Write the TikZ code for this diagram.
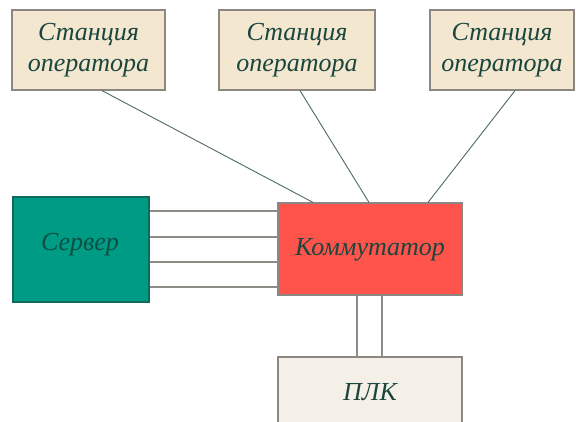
\documentclass[tikz,border=0pt]{standalone}
\usepackage{fontspec}
\setmainfont{Liberation Serif}
\usetikzlibrary{calc}
\definecolor{stfill}{HTML}{F3E7D0}
\definecolor{boxedge}{HTML}{8C8782}
\definecolor{srvfill}{HTML}{009B84}
\definecolor{srvedge}{HTML}{0E6B5C}
\definecolor{swfill}{HTML}{FF544C}
\definecolor{plcfill}{HTML}{F4F0E8}
\definecolor{txt}{HTML}{1A463E}
\definecolor{srvtxt}{HTML}{0D4F44}
\definecolor{wire}{HTML}{8E8B85}
\definecolor{link}{HTML}{4E6A64}
\tikzset{
  label font/.style={font=\fontsize{26}{31}\selectfont\itshape, text=txt, align=center},
  station/.style={label font, draw=boxedge, line width=1.2pt, fill=stfill,
    minimum height=80pt, inner sep=0pt},
  server/.style={draw=srvedge, line width=1.2pt, fill=srvfill,
    minimum width=136pt, minimum height=105pt, inner sep=0pt},
  switch/.style={draw=boxedge, line width=1.2pt, fill=swfill,
    minimum width=184pt, minimum height=92pt, inner sep=0pt},
  plc/.style={draw=boxedge, line width=1.2pt, fill=plcfill,
    minimum width=184pt, minimum height=90pt, inner sep=0pt},
  wire/.style={draw=wire, line width=1.4pt},
  link/.style={draw=link, line width=0.9pt}
}
\begin{document}
\begin{tikzpicture}[x=1pt,y=-1pt]
  \useasboundingbox (0,0) rectangle (576,421);
  \clip (0,0) rectangle (576,421);
  \fill[white] (0,0) rectangle (576,421);

  % operator stations
  \node[station, minimum width=153pt] (st1) at (88.5,50) {Станция\\оператора};
  \node[station, minimum width=156pt] (st2) at (297,50) {Станция\\оператора};
  \node[station, minimum width=144pt] (st3) at (502,50) {Станция\\оператора};

  % server, switch and PLC
  \node[server] (srv) at (81,249.5) {};
  \node[label font, text=srvtxt] (srvlabel) at (80,245) {Сервер};
  \node[switch] (sw) at (370,249) {};
  \node[label font] (swlabel) at (370,250) {Коммутатор};
  \node[plc] (plc) at (370,402) {};
  \node[label font] (plclabel) at (370,392) {ПЛК};

  % station uplinks to the switch
  \draw[link] ($(st1.south)+(13.5,0)$) -- ($(sw.north)+(-57,0)$);
  \draw[link] ($(st2.south)+(3,0)$) -- ($(sw.north)+(-1,0)$);
  \draw[link] ($(st3.south)+(13,0)$) -- ($(sw.north)+(58,0)$);

  % server trunk lines
  \foreach \yy in {211,237,262,287}
    \draw[wire] (srv.east |- 0,\yy) -- (sw.west |- 0,\yy);

  % switch to PLC
  \draw[wire] ($(sw.south)+(-13,0)$) -- ($(plc.north)+(-13,0)$);
  \draw[wire] ($(sw.south)+(12,0)$) -- ($(plc.north)+(12,0)$);
\end{tikzpicture}
\end{document}
